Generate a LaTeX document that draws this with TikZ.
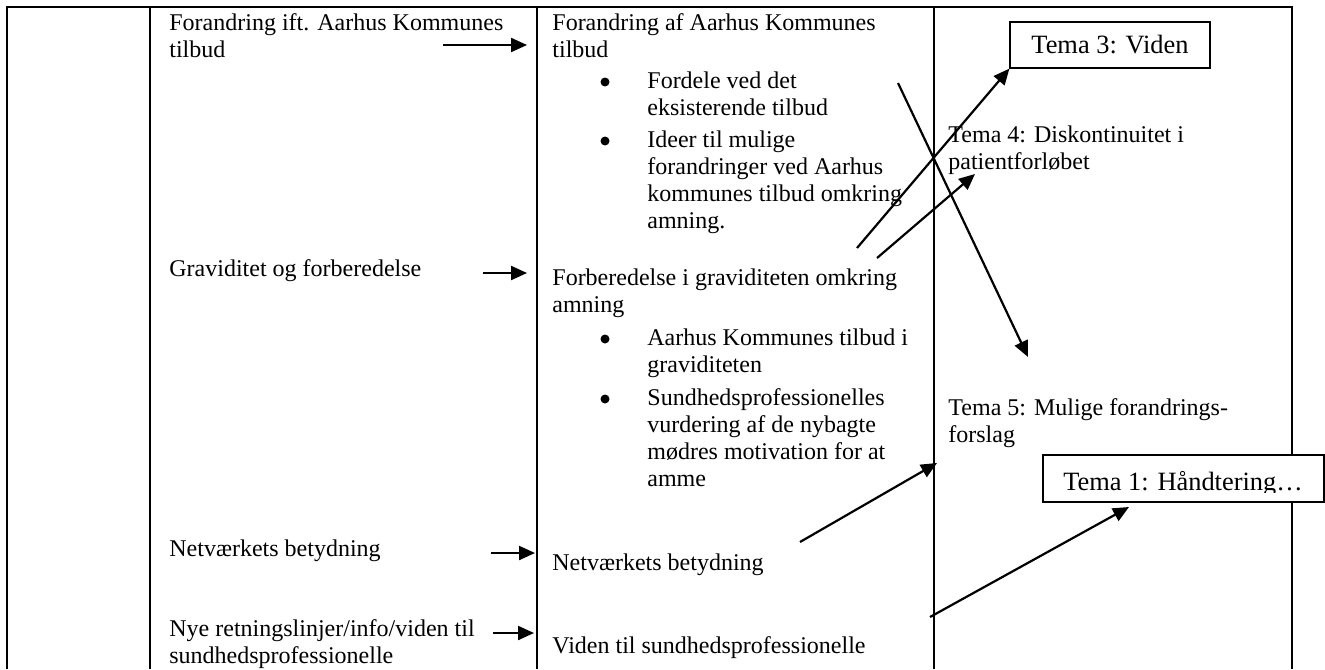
\documentclass[tikz,border=0pt]{standalone}
\usepackage{fontspec}
\setmainfont{Liberation Serif}
\usetikzlibrary{arrows.meta}
% stacked lines whose baseline is the first line
\newcommand{\stacklines}[1]{\begin{tabular}[t]{@{}l@{}}#1\end{tabular}}
\begin{document}
\begin{tikzpicture}[x=0.5pt,y=-0.5pt,
  rule/.style={line width=1.2pt},
  txt/.style={anchor=base west, inner sep=0pt, font=\fontsize{12pt}{13.5pt}\selectfont},
  conn/.style={line width=1.1pt, -{Triangle[length=8pt,width=7pt]}},
  bul/.style={circle, fill, inner sep=0pt, minimum size=4.5pt},
  tbox/.style={draw, line width=0.6pt, fill=white, inner sep=0pt},
  boxfont/.style={font=\fontsize{13.2pt}{15pt}\selectfont}]
\useasboundingbox (0,0) rectangle (1325,669);

% table rules
\draw[rule] (7,669) -- (7,7) -- (1292,7) -- (1292,669);
\draw[rule] (150,7) -- (150,669);
\draw[rule] (537,7) -- (537,669);
\draw[rule] (934,7) -- (934,669);

% first column
\node[txt] (l1) at (169,30.5) {\stacklines{Forandring ift. Aarhus Kommunes\\tilbud}};
\node[txt] (l2) at (169,276) {Graviditet og forberedelse};
\node[txt] (l3) at (169,556) {Netværkets betydning};
\node[txt] (l4) at (169,636) {\stacklines{Nye retningslinjer/info/viden til\\sundhedsprofessionelle}};

% second column
\node[txt] (m1) at (552,30.5) {\stacklines{Forandring af Aarhus Kommunes\\tilbud}};
\node[bul] (b1) at (605,82) {};
\node[txt] (m1a) at (647,88) {\stacklines{Fordele ved det\\eksisterende tilbud}};
\node[bul] (b2) at (605,141) {};
\node[txt] (m1b) at (647,147) {\stacklines{Ideer til mulige\\forandringer ved Aarhus\\kommunes tilbud omkring\\amning.}};
\node[txt] (m2) at (552,285) {\stacklines{Forberedelse i graviditeten omkring\\amning}};
\node[bul] (b3) at (605,339) {};
\node[txt] (m2a) at (647,345) {\stacklines{Aarhus Kommunes tilbud i\\graviditeten}};
\node[bul] (b4) at (605,399) {};
\node[txt] (m2b) at (647,405) {\stacklines{Sundhedsprofessionelles\\vurdering af de nybagte\\mødres motivation for at\\amme}};
\node[txt] (m3) at (552,570) {Netværkets betydning};
\node[txt] (m4) at (552,653) {Viden til sundhedsprofessionelle};

% third column
\node[txt] (r4) at (948,142) {\stacklines{Tema 4: Diskontinuitet i\\patientforløbet}};
\node[txt] (r5) at (948,415) {\stacklines{Tema 5: Mulige forandrings-\\forslag}};

% arrow end points
\coordinate (a1s) at (443,45);  \coordinate (a1e) at (527,45);
\coordinate (a2s) at (483,273); \coordinate (a2e) at (527,273);
\coordinate (a3s) at (491,553); \coordinate (a3e) at (535,553);
\coordinate (a4s) at (493,633); \coordinate (a4e) at (534,633);
\coordinate (d1s) at (857,248);
\coordinate (d2s) at (877,258); \coordinate (d2e) at (975,174);
\coordinate (d3s) at (898,83);  \coordinate (d3e) at (1028,357);
\coordinate (d4s) at (800,542); \coordinate (d4e) at (937,463);
\coordinate (d5s) at (930,617); \coordinate (d5e) at (1129,507);

\draw[conn] (a1s) -- (a1e);
\draw[conn] (a2s) -- (a2e);
\draw[conn] (a3s) -- (a3e);
\draw[conn] (a4s) -- (a4e);

% theme boxes
\node[tbox, boxfont, minimum width=100pt, minimum height=23pt] (t3) at (1110,45) {Tema 3: Viden};
\node[tbox, minimum width=140.5pt, minimum height=23.5pt] (t1) at (1183.5,478.5) {};
\begin{scope}
  % the box's inner margin trims the descenders of its text
  \clip (1043,455) rectangle (1324,492);
  \node[boxfont, anchor=base, inner sep=0pt] (t1text) at (1183,490) {Tema 1: Håndtering…};
\end{scope}

\draw[conn] (d1s) -- (t3.south west);
\draw[conn] (d2s) -- (d2e);
\draw[conn] (d3s) -- (d3e);
\draw[conn] (d4s) -- (d4e);
\draw[conn] (d5s) -- (d5e);
\end{tikzpicture}
\end{document}
